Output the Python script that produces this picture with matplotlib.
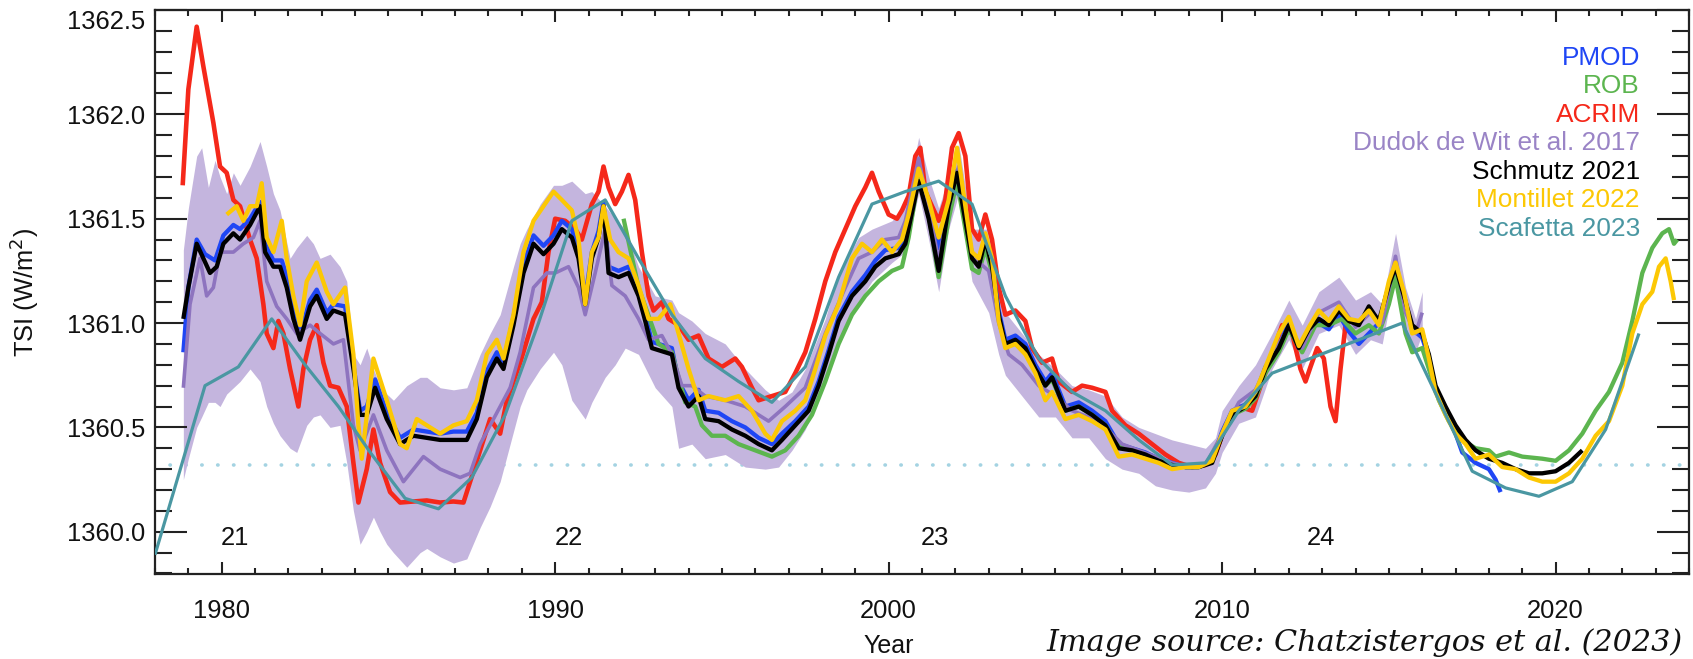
import matplotlib
matplotlib.use("Agg")
import matplotlib.pyplot as plt
from matplotlib.ticker import MultipleLocator, FixedLocator, FormatStrFormatter

plt.rcParams['font.family'] = ['Liberation Sans', 'DejaVu Sans']

# ---------------- data ----------------
acrim_years = [1978.83, 1979.0, 1979.25, 1979.45, 1979.75, 1979.95, 1980.15, 1980.35, 1980.55, 1980.85,
               1981.05, 1981.25, 1981.35, 1981.55, 1981.7, 1981.85, 1982.05, 1982.3, 1982.45, 1982.65,
               1982.85, 1983.05, 1983.25, 1983.5, 1983.75, 1983.95, 1984.1, 1984.35, 1984.55, 1984.75,
               1985.05, 1985.35, 1985.75, 1986.15, 1986.55, 1986.95, 1987.25, 1987.45, 1987.75, 1988.05,
               1988.35, 1988.55, 1988.95, 1989.35, 1989.6, 1989.8, 1990.0, 1990.3, 1990.6, 1990.8,
               1991.1, 1991.3, 1991.45, 1991.6, 1991.8, 1992.0, 1992.2, 1992.4, 1992.6, 1992.8,
               1992.95, 1993.2, 1993.4, 1993.7, 1994.0, 1994.3, 1994.6, 1995.0, 1995.4, 1995.6,
               1995.9, 1996.1, 1996.5, 1996.9, 1997.2, 1997.5, 1997.8, 1998.1, 1998.4, 1998.7,
               1999.0, 1999.3, 1999.5, 1999.7, 2000.0, 2000.25, 2000.4, 2000.6, 2000.8, 2000.95,
               2001.1, 2001.5, 2001.7, 2001.9, 2002.1, 2002.3, 2002.5, 2002.7, 2002.9, 2003.1,
               2003.3, 2003.5, 2003.8, 2004.1, 2004.3, 2004.6, 2004.9, 2005.1, 2005.5, 2005.8,
               2006.1, 2006.5, 2006.7, 2007.1, 2007.5, 2007.9, 2008.3, 2008.7, 2009.1, 2009.5,
               2009.8, 2010.1, 2010.5, 2010.9, 2011.2, 2011.5, 2011.8, 2012.1, 2012.35, 2012.5,
               2012.65, 2012.85, 2013.05, 2013.25, 2013.4, 2013.55, 2013.7, 2013.85]
acrim_tsi = [1361.66, 1362.12, 1362.42, 1362.23, 1361.96, 1361.75, 1361.72, 1361.59, 1361.56, 1361.40,
             1361.31, 1361.09, 1360.95, 1360.88, 1361.01, 1360.95, 1360.78, 1360.60, 1360.78, 1360.92,
             1360.99, 1360.81, 1360.70, 1360.69, 1360.60, 1360.33, 1360.14, 1360.30, 1360.49, 1360.33,
             1360.19, 1360.14, 1360.145, 1360.15, 1360.14, 1360.145, 1360.14, 1360.24, 1360.39, 1360.54,
             1360.47, 1360.63, 1360.81, 1361.02, 1361.10, 1361.34, 1361.50, 1361.49, 1361.45, 1361.40,
             1361.57, 1361.63, 1361.75, 1361.65, 1361.57, 1361.63, 1361.71, 1361.59, 1361.34, 1361.13,
             1361.06, 1361.10, 1361.02, 1360.99, 1360.92, 1360.94, 1360.83, 1360.79, 1360.83, 1360.79,
             1360.69, 1360.63, 1360.65, 1360.67, 1360.76, 1360.86, 1361.02, 1361.20, 1361.34, 1361.45,
             1361.56, 1361.65, 1361.72, 1361.63, 1361.52, 1361.50, 1361.54, 1361.61, 1361.80, 1361.84,
             1361.63, 1361.49, 1361.59, 1361.84, 1361.91, 1361.80, 1361.45, 1361.40, 1361.52, 1361.40,
             1361.17, 1361.04, 1361.06, 1361.01, 1360.88, 1360.81, 1360.83, 1360.72, 1360.67, 1360.70,
             1360.69, 1360.67, 1360.58, 1360.51, 1360.47, 1360.42, 1360.37, 1360.33, 1360.31, 1360.32,
             1360.37, 1360.51, 1360.60, 1360.58, 1360.72, 1360.85, 1360.99, 1360.95, 1360.78, 1360.72,
             1360.79, 1360.88, 1360.83, 1360.60, 1360.53, 1360.78, 1360.99, 1361.01]

pmod_years = [1978.85, 1979.0, 1979.25, 1979.5, 1979.8, 1980.05, 1980.35, 1980.55, 1980.85, 1981.15,
              1981.3, 1981.55, 1981.8, 1982.0, 1982.15, 1982.35, 1982.65, 1982.85, 1983.15, 1983.35,
              1983.7, 1983.95, 1984.15, 1984.35, 1984.6, 1984.95, 1985.35, 1985.75, 1986.15, 1986.55,
              1986.95, 1987.35, 1987.65, 1987.95, 1988.25, 1988.45, 1988.75, 1989.05, 1989.35, 1989.65,
              1989.95, 1990.2, 1990.5, 1990.7, 1990.9, 1991.1, 1991.3, 1991.45, 1991.6, 1991.9,
              1992.2, 1992.5, 1992.7, 1992.9, 1993.3, 1993.5, 1993.7, 1994.0, 1994.3, 1994.5,
              1994.9, 1995.3, 1995.7, 1996.1, 1996.5, 1996.8, 1997.2, 1997.6, 1997.9, 1998.2,
              1998.5, 1998.9, 1999.3, 1999.6, 1999.9, 2000.3, 2000.5, 2000.9, 2001.2, 2001.5,
              2001.8, 2002.05, 2002.3, 2002.5, 2002.7, 2002.9, 2003.1, 2003.3, 2003.5, 2003.8,
              2004.1, 2004.4, 2004.7, 2004.9, 2005.3, 2005.7, 2006.1, 2006.5, 2006.9, 2007.3,
              2007.7, 2008.1, 2008.5, 2008.9, 2009.3, 2009.7, 2010.0, 2010.3, 2010.7, 2011.0,
              2011.3, 2011.7, 2012.0, 2012.3, 2012.6, 2012.9, 2013.2, 2013.5, 2013.8, 2014.1,
              2014.4, 2014.7, 2015.0, 2015.2, 2015.45, 2015.7, 2016.0, 2016.2, 2016.4, 2016.7,
              2017.0, 2017.2, 2017.6, 2018.0, 2018.2, 2018.35]
pmod_tsi = [1360.86, 1361.17, 1361.40, 1361.33, 1361.30, 1361.42, 1361.47, 1361.45, 1361.50, 1361.58,
            1361.38, 1361.30, 1361.30, 1361.20, 1361.05, 1360.95, 1361.11, 1361.16, 1361.05, 1361.09,
            1361.08, 1360.80, 1360.58, 1360.60, 1360.73, 1360.57, 1360.45, 1360.49, 1360.48, 1360.47,
            1360.48, 1360.48, 1360.57, 1360.77, 1360.86, 1360.81, 1361.03, 1361.28, 1361.42, 1361.37,
            1361.42, 1361.49, 1361.45, 1361.34, 1361.12, 1361.34, 1361.44, 1361.58, 1361.27, 1361.25,
            1361.27, 1361.16, 1361.04, 1360.91, 1360.89, 1360.88, 1360.72, 1360.63, 1360.68, 1360.58,
            1360.57, 1360.53, 1360.50, 1360.45, 1360.42, 1360.47, 1360.53, 1360.60, 1360.72, 1360.87,
            1361.03, 1361.15, 1361.23, 1361.30, 1361.35, 1361.36, 1361.40, 1361.72, 1361.57, 1361.36,
            1361.58, 1361.73, 1361.50, 1361.33, 1361.29, 1361.41, 1361.29, 1361.06, 1360.92, 1360.94,
            1360.90, 1360.80, 1360.72, 1360.76, 1360.60, 1360.62, 1360.58, 1360.53, 1360.42, 1360.40,
            1360.38, 1360.35, 1360.33, 1360.31, 1360.31, 1360.34, 1360.48, 1360.58, 1360.61, 1360.66,
            1360.79, 1360.89, 1361.00, 1360.88, 1360.97, 1361.00, 1360.97, 1361.04, 1360.96, 1360.90,
            1360.95, 1361.00, 1361.16, 1361.25, 1361.12, 1360.97, 1360.93, 1360.83, 1360.68, 1360.57,
            1360.47, 1360.38, 1360.33, 1360.30, 1360.25, 1360.19]

rob_years = [1992.05, 1992.5, 1993.1, 1993.5, 1993.9, 1994.2, 1994.4, 1994.7, 1995.1, 1995.5,
             1996.0, 1996.5, 1996.9, 1997.3, 1997.7, 1998.1, 1998.5, 1998.9, 1999.3, 1999.7,
             2000.1, 2000.4, 2000.6, 2000.9, 2001.2, 2001.5, 2001.8, 2002.05, 2002.3, 2002.5,
             2002.7, 2002.9, 2003.1, 2003.3, 2003.5, 2003.8, 2004.1, 2004.4, 2004.7, 2004.9,
             2005.3, 2005.7, 2006.1, 2006.5, 2006.9, 2007.3, 2007.7, 2008.1, 2008.5, 2008.9,
             2009.3, 2009.7, 2010.0, 2010.3, 2010.7, 2011.0, 2011.3, 2011.7, 2012.0, 2012.4,
             2012.8, 2013.2, 2013.6, 2014.0, 2014.4, 2014.7, 2015.0, 2015.2, 2015.5, 2015.7,
             2016.0, 2016.2, 2016.5, 2016.8, 2017.2, 2017.6, 2018.0, 2018.2, 2018.6, 2019.0,
             2019.6, 2020.0, 2020.4, 2020.8, 2021.2, 2021.6, 2022.0, 2022.3, 2022.6, 2022.9,
             2023.2, 2023.4, 2023.55, 2023.65]
rob_tsi = [1361.50, 1361.17, 1360.90, 1360.86, 1360.62, 1360.60, 1360.51, 1360.46, 1360.46, 1360.42,
           1360.39, 1360.36, 1360.39, 1360.46, 1360.56, 1360.72, 1360.90, 1361.04, 1361.13, 1361.20,
           1361.25, 1361.27, 1361.41, 1361.70, 1361.52, 1361.22, 1361.50, 1361.68, 1361.45, 1361.26,
           1361.24, 1361.36, 1361.24, 1361.02, 1360.90, 1360.90, 1360.87, 1360.77, 1360.70, 1360.73,
           1360.58, 1360.60, 1360.56, 1360.51, 1360.41, 1360.39, 1360.37, 1360.34, 1360.32, 1360.31,
           1360.31, 1360.34, 1360.47, 1360.56, 1360.59, 1360.64, 1360.76, 1360.86, 1360.97, 1360.86,
           1360.99, 1360.99, 1361.02, 1360.95, 1360.99, 1360.95, 1361.09, 1361.22, 1360.95, 1360.86,
           1360.88, 1360.78, 1360.63, 1360.53, 1360.44, 1360.40, 1360.39, 1360.36, 1360.38, 1360.36,
           1360.35, 1360.34, 1360.39, 1360.47, 1360.58, 1360.67, 1360.81, 1361.01, 1361.24, 1361.36,
           1361.43, 1361.45, 1361.38, 1361.40]

dudok_years = [1978.85, 1979.05, 1979.35, 1979.55, 1979.75, 1979.95, 1980.35, 1980.65, 1980.95, 1981.15,
               1981.35, 1981.65, 1981.95, 1982.25, 1982.65, 1982.95, 1983.35, 1983.65, 1983.95, 1984.15,
               1984.55, 1984.95, 1985.45, 1986.05, 1986.55, 1987.15, 1987.45, 1987.75, 1988.05, 1988.35,
               1988.65, 1988.95, 1989.35, 1989.75, 1990.0, 1990.4, 1990.7, 1990.9, 1991.2, 1991.5,
               1991.7, 1992.1, 1992.5, 1992.8, 1993.2, 1993.5, 1993.8, 1994.1, 1994.5, 1995.1,
               1995.7, 1996.4, 1996.9, 1997.5, 1998.1, 1998.7, 1999.1, 1999.5, 1999.9, 2000.3,
               2000.5, 2000.9, 2001.2, 2001.5, 2001.8, 2002.1, 2002.5, 2003.0, 2003.3, 2003.6,
               2004.0, 2004.5, 2005.0, 2005.5, 2006.0, 2006.5, 2007.0, 2007.5, 2008.0, 2008.5,
               2009.0, 2009.5, 2010.0, 2010.5, 2011.0, 2011.5, 2012.0, 2012.4, 2012.9, 2013.5,
               2014.0, 2014.45, 2014.8, 2015.2, 2015.5, 2015.8, 2016.0]
dudok_tsi = [1360.69, 1361.09, 1361.31, 1361.13, 1361.17, 1361.34, 1361.34, 1361.38, 1361.41, 1361.49,
             1361.20, 1361.08, 1361.02, 1360.95, 1360.99, 1360.95, 1360.90, 1360.92, 1360.51, 1360.39,
             1360.56, 1360.39, 1360.24, 1360.36, 1360.30, 1360.26, 1360.28, 1360.42, 1360.51, 1360.60,
             1360.69, 1360.86, 1361.17, 1361.24, 1361.24, 1361.27, 1361.17, 1361.04, 1361.24, 1361.45,
             1361.18, 1361.13, 1361.02, 1360.92, 1360.94, 1360.85, 1360.70, 1360.70, 1360.65, 1360.63,
             1360.60, 1360.53, 1360.60, 1360.69, 1360.95, 1361.17, 1361.31, 1361.34, 1361.40, 1361.41,
             1361.49, 1361.79, 1361.55, 1361.30, 1361.55, 1361.75, 1361.32, 1361.25, 1361.00, 1360.85,
             1360.80, 1360.70, 1360.65, 1360.58, 1360.55, 1360.50, 1360.42, 1360.39, 1360.36, 1360.33,
             1360.31, 1360.32, 1360.47, 1360.62, 1360.68, 1360.85, 1360.98, 1360.88, 1361.05, 1361.10,
             1360.98, 1361.05, 1361.00, 1361.32, 1361.05, 1360.95, 1361.05]

band_years = [1978.85, 1979.0, 1979.25, 1979.4, 1979.6, 1979.8, 1979.95, 1980.15, 1980.35, 1980.55,
              1980.85, 1981.15, 1981.35, 1981.55, 1981.75, 1982.05, 1982.25, 1982.55, 1982.75, 1982.95,
              1983.25, 1983.55, 1983.75, 1983.95, 1984.15, 1984.35, 1984.55, 1984.75, 1984.95, 1985.15,
              1985.55, 1985.95, 1986.15, 1986.55, 1986.95, 1987.35, 1987.75, 1988.05, 1988.35, 1988.75,
              1988.95, 1989.15, 1989.55, 1989.95, 1990.2, 1990.5, 1990.9, 1991.1, 1991.5, 1991.8,
              1992.1, 1992.5, 1993.0, 1993.5, 1993.7, 1994.1, 1994.5, 1995.1, 1995.7, 1996.3,
              1996.7, 1997.1, 1997.5, 1998.1, 1998.5, 1999.1, 1999.5, 2000.1, 2000.5, 2000.9,
              2001.2, 2001.5, 2001.8, 2002.1, 2002.5, 2003.0, 2003.3, 2003.5, 2004.0, 2004.5,
              2005.0, 2005.5, 2006.0, 2006.5, 2007.0, 2007.5, 2008.0, 2008.5, 2009.0, 2009.5,
              2009.8, 2010.0, 2010.5, 2011.0, 2011.5, 2012.0, 2012.4, 2012.9, 2013.5, 2014.0,
              2014.45, 2014.8, 2015.2, 2015.5, 2015.8, 2016.0]
band_upper = [1361.35, 1361.55, 1361.80, 1361.84, 1361.65, 1361.78, 1361.70, 1361.62, 1361.72, 1361.66,
              1361.75, 1361.87, 1361.75, 1361.62, 1361.54, 1361.31, 1361.36, 1361.42, 1361.38, 1361.31,
              1361.33, 1361.27, 1361.20, 1360.85, 1360.80, 1360.88, 1360.78, 1360.70, 1360.66, 1360.63,
              1360.70, 1360.74, 1360.74, 1360.69, 1360.68, 1360.69, 1360.85, 1360.95, 1361.04, 1361.27,
              1361.38, 1361.45, 1361.57, 1361.66, 1361.66, 1361.68, 1361.62, 1361.63, 1361.56, 1361.50,
              1361.45, 1361.27, 1361.13, 1361.11, 1361.05, 1361.01, 1360.95, 1360.90, 1360.78, 1360.68,
              1360.63, 1360.67, 1360.78, 1361.02, 1361.24, 1361.41, 1361.45, 1361.49, 1361.56, 1361.89,
              1361.70, 1361.55, 1361.70, 1361.86, 1361.45, 1361.45, 1361.20, 1361.05, 1360.95, 1360.85,
              1360.78, 1360.70, 1360.68, 1360.65, 1360.55, 1360.50, 1360.47, 1360.44, 1360.42, 1360.40,
              1360.45, 1360.58, 1360.70, 1360.80, 1360.95, 1361.11, 1360.99, 1361.15, 1361.22, 1361.11,
              1361.15, 1361.09, 1361.43, 1361.17, 1361.02, 1361.15]
band_lower = [1360.25, 1360.35, 1360.50, 1360.55, 1360.62, 1360.62, 1360.60, 1360.66, 1360.69, 1360.72,
              1360.78, 1360.72, 1360.60, 1360.52, 1360.46, 1360.40, 1360.38, 1360.51, 1360.55, 1360.56,
              1360.50, 1360.51, 1360.33, 1360.10, 1359.94, 1360.00, 1360.07, 1360.00, 1359.94, 1359.90,
              1359.83, 1359.90, 1359.92, 1359.88, 1359.85, 1359.87, 1360.02, 1360.12, 1360.24, 1360.48,
              1360.60, 1360.68, 1360.78, 1360.86, 1360.80, 1360.63, 1360.54, 1360.62, 1360.74, 1360.80,
              1360.88, 1360.85, 1360.69, 1360.60, 1360.40, 1360.42, 1360.35, 1360.37, 1360.31, 1360.30,
              1360.31, 1360.39, 1360.49, 1360.72, 1360.90, 1361.10, 1361.20, 1361.29, 1361.34, 1361.62,
              1361.40, 1361.15, 1361.45, 1361.62, 1361.20, 1361.05, 1360.85, 1360.75, 1360.65, 1360.55,
              1360.55, 1360.45, 1360.45, 1360.35, 1360.30, 1360.28, 1360.22, 1360.20, 1360.19, 1360.21,
              1360.28, 1360.38, 1360.52, 1360.55, 1360.78, 1360.92, 1360.78, 1360.95, 1360.99, 1360.85,
              1360.92, 1360.90, 1361.24, 1360.92, 1360.86, 1360.95]

schmutz_years = [1978.85, 1979.0, 1979.25, 1979.45, 1979.65, 1979.85, 1980.05, 1980.35, 1980.55, 1980.85,
                 1981.15, 1981.3, 1981.55, 1981.75, 1981.95, 1982.15, 1982.35, 1982.65, 1982.85, 1983.15,
                 1983.35, 1983.7, 1983.95, 1984.15, 1984.35, 1984.6, 1984.95, 1985.35, 1985.75, 1986.15,
                 1986.55, 1986.95, 1987.35, 1987.65, 1987.95, 1988.25, 1988.45, 1988.75, 1989.05, 1989.35,
                 1989.65, 1989.95, 1990.2, 1990.5, 1990.7, 1990.9, 1991.1, 1991.3, 1991.45, 1991.6,
                 1991.9, 1992.2, 1992.5, 1992.7, 1992.9, 1993.3, 1993.5, 1993.7, 1994.0, 1994.3,
                 1994.5, 1994.9, 1995.3, 1995.7, 1996.1, 1996.5, 1996.8, 1997.2, 1997.6, 1997.9,
                 1998.2, 1998.5, 1998.9, 1999.3, 1999.6, 1999.9, 2000.3, 2000.5, 2000.9, 2001.2,
                 2001.5, 2001.8, 2002.05, 2002.3, 2002.5, 2002.7, 2002.9, 2003.1, 2003.3, 2003.5,
                 2003.8, 2004.1, 2004.4, 2004.7, 2004.9, 2005.3, 2005.7, 2006.1, 2006.5, 2006.9,
                 2007.3, 2007.7, 2008.1, 2008.5, 2008.9, 2009.3, 2009.7, 2010.0, 2010.3, 2010.7,
                 2011.0, 2011.3, 2011.7, 2012.0, 2012.3, 2012.6, 2012.9, 2013.2, 2013.5, 2013.8,
                 2014.1, 2014.4, 2014.7, 2015.0, 2015.2, 2015.45, 2015.7, 2016.0, 2016.2, 2016.4,
                 2016.7, 2017.0, 2017.3, 2017.6, 2018.0, 2018.4, 2018.8, 2019.2, 2019.6, 2020.0,
                 2020.4, 2020.8]
schmutz_tsi = [1361.02, 1361.17, 1361.38, 1361.31, 1361.24, 1361.27, 1361.38, 1361.43, 1361.40, 1361.47,
               1361.56, 1361.34, 1361.27, 1361.27, 1361.17, 1361.02, 1360.92, 1361.08, 1361.13, 1361.02,
               1361.06, 1361.04, 1360.78, 1360.56, 1360.56, 1360.69, 1360.54, 1360.42, 1360.46, 1360.45,
               1360.44, 1360.44, 1360.44, 1360.54, 1360.74, 1360.83, 1360.78, 1360.99, 1361.24, 1361.38,
               1361.33, 1361.38, 1361.45, 1361.41, 1361.31, 1361.09, 1361.31, 1361.41, 1361.56, 1361.24,
               1361.22, 1361.24, 1361.13, 1361.01, 1360.88, 1360.86, 1360.85, 1360.69, 1360.60, 1360.65,
               1360.54, 1360.53, 1360.49, 1360.46, 1360.42, 1360.39, 1360.44, 1360.51, 1360.58, 1360.70,
               1360.85, 1361.01, 1361.13, 1361.20, 1361.27, 1361.31, 1361.33, 1361.38, 1361.68, 1361.50,
               1361.25, 1361.56, 1361.72, 1361.49, 1361.31, 1361.27, 1361.40, 1361.27, 1361.04, 1360.90,
               1360.92, 1360.88, 1360.78, 1360.70, 1360.74, 1360.58, 1360.60, 1360.56, 1360.51, 1360.40,
               1360.39, 1360.37, 1360.34, 1360.32, 1360.31, 1360.31, 1360.33, 1360.46, 1360.56, 1360.60,
               1360.65, 1360.78, 1360.88, 1360.99, 1360.88, 1360.97, 1361.02, 1360.99, 1361.06, 1361.01,
               1360.99, 1361.08, 1361.01, 1361.18, 1361.27, 1361.13, 1360.99, 1360.95, 1360.85, 1360.70,
               1360.60, 1360.51, 1360.44, 1360.39, 1360.35, 1360.33, 1360.30, 1360.28, 1360.28, 1360.29,
               1360.33, 1360.39]

montillet_years = [1980.15, 1980.45, 1980.65, 1980.85, 1981.05, 1981.2, 1981.35, 1981.55, 1981.8, 1981.95,
                   1982.15, 1982.35, 1982.55, 1982.85, 1983.15, 1983.35, 1983.7, 1983.95, 1984.1, 1984.2,
                   1984.55, 1984.95, 1985.35, 1985.55, 1985.85, 1986.15, 1986.55, 1986.95, 1987.35, 1987.65,
                   1987.95, 1988.25, 1988.45, 1988.75, 1989.05, 1989.35, 1989.65, 1989.95, 1990.2, 1990.5,
                   1990.7, 1990.9, 1991.1, 1991.3, 1991.45, 1991.65, 1991.9, 1992.2, 1992.5, 1992.8,
                   1993.1, 1993.45, 1993.7, 1994.0, 1994.3, 1994.6, 1995.1, 1995.5, 1995.9, 1996.3,
                   1996.5, 1996.8, 1997.2, 1997.5, 1997.8, 1998.1, 1998.5, 1998.9, 1999.2, 1999.5,
                   1999.8, 2000.1, 2000.4, 2000.6, 2000.9, 2001.2, 2001.5, 2001.8, 2002.05, 2002.3,
                   2002.5, 2002.7, 2002.9, 2003.1, 2003.3, 2003.5, 2003.8, 2004.1, 2004.4, 2004.7,
                   2004.9, 2005.3, 2005.7, 2006.1, 2006.5, 2006.9, 2007.3, 2007.7, 2008.1, 2008.5,
                   2008.9, 2009.3, 2009.7, 2010.0, 2010.3, 2010.7, 2011.0, 2011.3, 2011.7, 2012.0,
                   2012.3, 2012.6, 2012.9, 2013.2, 2013.5, 2013.8, 2014.1, 2014.4, 2014.7, 2015.0,
                   2015.2, 2015.45, 2015.7, 2016.0, 2016.2, 2016.4, 2016.7, 2017.0, 2017.3, 2017.6,
                   2018.0, 2018.4, 2018.8, 2019.2, 2019.6, 2020.0, 2020.4, 2020.8, 2021.2, 2021.6,
                   2022.0, 2022.3, 2022.6, 2022.9, 2023.1, 2023.3, 2023.45, 2023.55]
montillet_tsi = [1361.52, 1361.56, 1361.49, 1361.56, 1361.56, 1361.67, 1361.41, 1361.34, 1361.49, 1361.31,
                 1361.13, 1360.99, 1361.20, 1361.29, 1361.15, 1361.09, 1361.17, 1360.85, 1360.51, 1360.35,
                 1360.83, 1360.63, 1360.42, 1360.40, 1360.54, 1360.51, 1360.47, 1360.51, 1360.53, 1360.63,
                 1360.85, 1360.92, 1360.83, 1361.04, 1361.34, 1361.49, 1361.56, 1361.63, 1361.59, 1361.54,
                 1361.40, 1361.09, 1361.34, 1361.41, 1361.56, 1361.40, 1361.34, 1361.31, 1361.18, 1361.02,
                 1361.02, 1361.09, 1360.95, 1360.78, 1360.63, 1360.65, 1360.63, 1360.65, 1360.58, 1360.47,
                 1360.44, 1360.53, 1360.58, 1360.63, 1360.78, 1360.94, 1361.09, 1361.31, 1361.38, 1361.34,
                 1361.40, 1361.34, 1361.40, 1361.52, 1361.74, 1361.59, 1361.41, 1361.59, 1361.84, 1361.56,
                 1361.34, 1361.31, 1361.43, 1361.31, 1361.01, 1360.88, 1360.90, 1360.85, 1360.76, 1360.63,
                 1360.67, 1360.54, 1360.56, 1360.53, 1360.49, 1360.36, 1360.37, 1360.35, 1360.33, 1360.30,
                 1360.31, 1360.31, 1360.34, 1360.47, 1360.58, 1360.60, 1360.67, 1360.79, 1360.95, 1361.03,
                 1360.89, 1360.98, 1361.06, 1361.01, 1361.08, 1361.02, 1361.01, 1361.06, 1360.99, 1361.20,
                 1361.29, 1361.15, 1360.95, 1360.97, 1360.83, 1360.67, 1360.56, 1360.47, 1360.42, 1360.35,
                 1360.37, 1360.31, 1360.30, 1360.26, 1360.24, 1360.24, 1360.28, 1360.35, 1360.46, 1360.53,
                 1360.70, 1360.95, 1361.09, 1361.15, 1361.27, 1361.31, 1361.20, 1361.11]

scafetta_years = [1978.0, 1979.5, 1980.5, 1981.5, 1982.5, 1983.5, 1984.5, 1985.5, 1986.5, 1987.5,
                  1988.5, 1989.5, 1990.5, 1991.5, 1992.5, 1993.5, 1994.5, 1995.5, 1996.5, 1997.5,
                  1998.5, 1999.5, 2000.5, 2001.5, 2002.5, 2003.5, 2004.5, 2005.5, 2006.5, 2007.5,
                  2008.5, 2009.5, 2010.5, 2011.5, 2015.4, 2016.5, 2017.5, 2018.5, 2019.5, 2020.5,
                  2021.5, 2022.5]
scafetta_tsi = [1359.89, 1360.70, 1360.79, 1361.02, 1360.80, 1360.60, 1360.37, 1360.16, 1360.11, 1360.26,
                1360.56, 1361.00, 1361.49, 1361.59, 1361.31, 1361.04, 1360.83, 1360.72, 1360.62, 1360.79,
                1361.22, 1361.57, 1361.63, 1361.68, 1361.57, 1361.13, 1360.83, 1360.67, 1360.58, 1360.44,
                1360.32, 1360.33, 1360.58, 1360.76, 1361.00, 1360.63, 1360.29, 1360.21, 1360.17, 1360.24,
                1360.49, 1360.95]

reference_level = 1360.32
cycle_numbers = ['21', '22', '23', '24']
cycle_label_years = [1980.39, 1990.42, 2001.4, 2012.95]
cycle_label_tsi = 1359.97

series_names = ['PMOD', 'ROB', 'ACRIM', 'Dudok de Wit et al. 2017', 'Schmutz 2021',
                'Montillet 2022', 'Scafetta 2023']
series_label_tsi = [1362.272, 1362.135, 1361.999, 1361.862, 1361.726, 1361.589, 1361.452]

# ---------------- styling ----------------
c_pmod = '#1f46f5'
c_rob = '#5cb54f'
c_acrim = '#f5281a'
c_dudok_line = '#8e74bf'
c_dudok_text = '#9a84c6'
c_band = '#c4b5de'
c_schmutz = '#000000'
c_montillet = '#fcc804'
c_scafetta = '#4a97a2'
c_ref = '#a4d3e2'

W, H = 1693, 659
fig = plt.figure(figsize=(W / 100, H / 100), dpi=100)
ax_l, ax_r, ax_b, ax_t = 155, 1689, 573.5, 10
ax = fig.add_axes([ax_l / W, 1 - ax_b / H, (ax_r - ax_l) / W, (ax_b - ax_t) / H])

ax.set_xlim(1978, 2024)
ax.set_ylim(1359.8, 1362.5)

ax.plot([1978.45, 2024], [reference_level, reference_level], color=c_ref, lw=2.6,
        linestyle=(0, (0.1, 4.3)), dash_capstyle='round', zorder=0.5)
ax.fill_between(band_years, band_lower, band_upper, color=c_band, lw=0, zorder=1)

lw = 3.1
common = dict(solid_joinstyle='round', solid_capstyle='butt')
ax.plot(acrim_years, acrim_tsi, color=c_acrim, lw=3.3, zorder=2, **common)
ax.plot(pmod_years, pmod_tsi, color=c_pmod, lw=lw, zorder=3, **common)
ax.plot(rob_years, rob_tsi, color=c_rob, lw=lw, zorder=3.5, **common)
ax.plot(dudok_years, dudok_tsi, color=c_dudok_line, lw=2.6, zorder=4, **common)
ax.plot(schmutz_years, schmutz_tsi, color=c_schmutz, lw=lw, zorder=5, **common)
ax.plot(montillet_years, montillet_tsi, color=c_montillet, lw=lw, zorder=6, **common)
ax.plot(scafetta_years, scafetta_tsi, color=c_scafetta, lw=2.3, zorder=7, **common)

# cycle numbers
for lab, yr in zip(cycle_numbers, cycle_label_years):
    ax.text(yr, cycle_label_tsi, lab, ha='center', va='center', fontsize=18.4, color='#111111', zorder=8)

# colour-coded series names
label_colors = [c_pmod, c_rob, c_acrim, c_dudok_text, c_schmutz, c_montillet, c_scafetta]
for name, yv, col in zip(series_names, series_label_tsi, label_colors):
    ax.text(0.968, yv, name, transform=ax.get_yaxis_transform(), ha='right', va='center',
            fontsize=18.9, color=col, zorder=9)

# axes, ticks
for s in ax.spines.values():
    s.set_linewidth(1.6)
    s.set_color('#222222')
ax.xaxis.set_major_locator(MultipleLocator(10))
ax.xaxis.set_minor_locator(MultipleLocator(1))
ax.yaxis.set_major_locator(FixedLocator([1360.0, 1360.5, 1361.0, 1361.5, 1362.0, 1362.5]))
ax.yaxis.set_minor_locator(MultipleLocator(0.1))
ax.yaxis.set_major_formatter(FormatStrFormatter('%.1f'))
ax.tick_params(axis='both', which='both', direction='in', top=True, right=True,
               colors='#222222', labelcolor='#111111')
ax.tick_params(axis='y', which='major', length=23, width=1.5, labelsize=18.4, pad=7)
ax.tick_params(axis='y', which='minor', length=12, width=1.5)
ax.tick_params(axis='x', which='major', length=8.5, width=1.5, labelsize=18.4, pad=18)
ax.tick_params(axis='x', which='minor', length=4.5, width=1.5)
for t in ax.yaxis.get_major_ticks():
    t.label1.set_va('center_baseline')
ax.yaxis.get_major_ticks()[5].label1.set_va('top')

fig.text(24 / W, 1 - 293 / H, 'TSI (W/m$^2$)', rotation=90, ha='center', va='center',
         fontsize=18.4, color='#111111')
fig.text(889 / W, 1 - 646 / H, 'Year', ha='center', va='center', fontsize=18, color='#111111')
fig.text(1046 / W, 1 - 651 / H, 'Image source: Chatzistergos et al. (2023)', ha='left',
         va='baseline', fontsize=21.8, style='italic', family=['DejaVu Serif'], color='#111111')

fig.savefig('out.png', dpi=100)
